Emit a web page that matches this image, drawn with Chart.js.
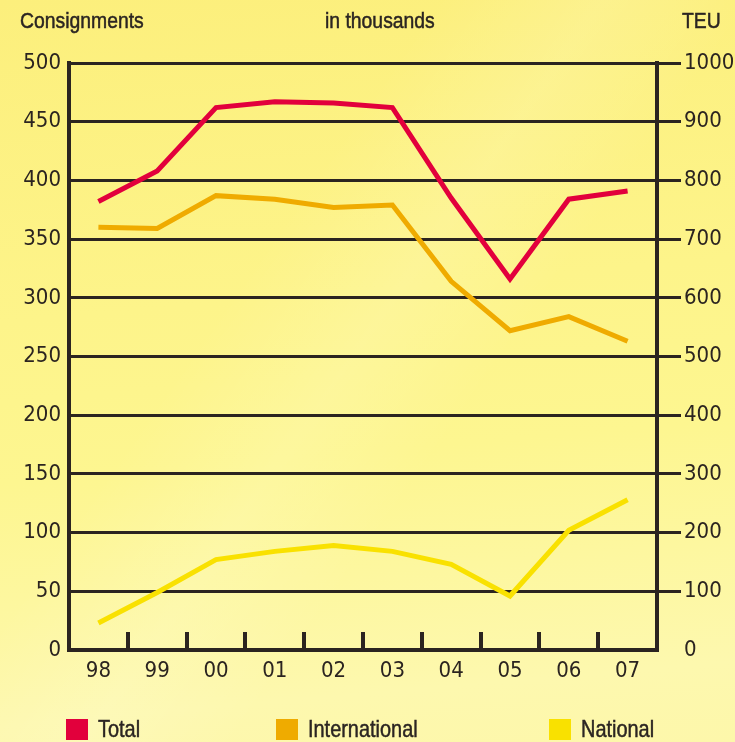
<!DOCTYPE html>
<html>
<head>
<meta charset="utf-8">
<script src="https://cdn.jsdelivr.net/npm/chart.js@4"></script>
<style>
  html, body { margin: 0; padding: 0; }
  body {
    width: 735px; height: 742px; overflow: hidden; position: relative;
    font-family: 'Liberation Sans', Arial, sans-serif;
    color: #2b2522;
    background:
      linear-gradient(125deg, rgba(255,255,255,0) 35%, rgba(255,255,255,0.12) 48%, rgba(255,255,255,0) 60%),
      linear-gradient(175deg, #fcef7c 0%, #fdf48a 40%, #fdf690 60%, #fdf8ae 90%, #fdf7aa 100%);
  }
  #chart { position: absolute; left: 0; top: 0; }
  .narrow {
    display: inline-block; transform-origin: left center; white-space: nowrap;
    -webkit-text-stroke: 0.5px #2b2522;
  }
  .title { position: absolute; top: 8px; font-size: 22px; }
  .title .narrow { transform: scaleX(0.88); }
  .item { position: absolute; top: 715px; display: flex; align-items: center; font-size: 24px; }
  .item .narrow { transform: scaleX(0.83); }
  .item:nth-child(1) { left: 66px; }
  .item:nth-child(2) { left: 276px; }
  .item:nth-child(3) { left: 549px; }
  .box { width: 22px; height: 21px; margin-right: 10px; }
</style>
</head>
<body>
<canvas id="chart" width="735" height="742"></canvas>
<div class="title" style="left:20px"><span class="narrow">Consignments</span></div>
<div class="title" style="left:325px"><span class="narrow">in thousands</span></div>
<div class="title" style="left:682px"><span class="narrow">TEU</span></div>
<div id="legend"></div>
<script>
const categories = ['98', '99', '00', '01', '02', '03', '04', '05', '06', '07'];
const totalValues = [382, 408, 462, 467, 466, 462, 385, 316, 384, 391];
const internationalValues = [360, 359, 387, 384, 377, 379, 314, 272, 284, 263];
const nationalValues = [23, 49, 77, 84, 89, 84, 73, 46, 102, 128];
const seriesNames = ['Total', 'International', 'National'];
const seriesColors = ['#e2003c', '#efab00', '#f9e100'];
const consignmentTicks = [0, 50, 100, 150, 200, 250, 300, 350, 400, 450, 500];
const teuTicks = [0, 100, 200, 300, 400, 500, 600, 700, 800, 900, 1000];

const ink = '#2b2420';
const tickFont = { family: "'DejaVu Sans Condensed', 'Liberation Sans', sans-serif", size: 22 };

// small upward tick marks between the years on the x axis
const categoryTicks = {
  id: 'categoryTicks',
  beforeDatasetsDraw(chart) {
    const { ctx, chartArea, scales: { x } } = chart;
    ctx.save();
    ctx.strokeStyle = ink;
    ctx.lineWidth = 4;
    for (let i = 1; i < categories.length; i++) {
      const px = Math.round((x.getPixelForValue(i - 1) + x.getPixelForValue(i)) / 2);
      ctx.beginPath();
      ctx.moveTo(px, chartArea.bottom);
      ctx.lineTo(px, chartArea.bottom - 18);
      ctx.stroke();
    }
    ctx.restore();
  }
};

const allValues = [totalValues, internationalValues, nationalValues];

new Chart(document.getElementById('chart').getContext('2d'), {
  type: 'line',
  data: {
    labels: categories,
    datasets: seriesNames.map((name, i) => ({
      label: name,
      data: allValues[i],
      borderColor: seriesColors[i],
      backgroundColor: seriesColors[i],
      borderWidth: 5,
      pointRadius: 0,
      tension: 0,
      yAxisID: 'y'
    }))
  },
  options: {
    responsive: false,
    animation: false,
    layout: { padding: { top: 63, left: 0, right: 0, bottom: 0 } },
    plugins: { legend: { display: false }, tooltip: { enabled: false } },
    scales: {
      x: {
        offset: true,
        grid: { display: false },
        border: { display: true, color: ink, width: 4 },
        ticks: { color: ink, font: tickFont, padding: 0, maxRotation: 0 },
        afterFit(scale) { scale.height = 92; }
      },
      y: {
        position: 'left',
        min: 0, max: 500,
        afterBuildTicks(scale) { scale.ticks = consignmentTicks.map(v => ({ value: v })); },
        grid: { color: ink, lineWidth: 3, drawTicks: false },
        border: { display: true, color: ink, width: 4 },
        ticks: { color: ink, font: tickFont, padding: 8, callback: v => String(v) },
        afterFit(scale) { scale.width = 69; }
      },
      y2: {
        position: 'right',
        min: 0, max: 1000,
        afterBuildTicks(scale) { scale.ticks = teuTicks.map(v => ({ value: v })); },
        grid: {
          drawOnChartArea: false, drawTicks: true, tickLength: 24, lineWidth: 3,
          color: ctx => ctx.tick && ctx.tick.value === 0 ? 'rgba(0,0,0,0)' : ink
        },
        border: { display: true, color: ink, width: 4 },
        ticks: { color: ink, font: tickFont, padding: 3, callback: v => String(v) },
        afterFit(scale) { scale.width = 78; }
      }
    }
  },
  plugins: [categoryTicks]
});

const legend = document.getElementById('legend');
seriesNames.forEach((name, i) => {
  const item = document.createElement('div');
  item.className = 'item';
  const box = document.createElement('span');
  box.className = 'box';
  box.style.background = seriesColors[i];
  const label = document.createElement('span');
  label.className = 'narrow';
  label.textContent = name;
  item.appendChild(box);
  item.appendChild(label);
  legend.appendChild(item);
});
</script>
</body>
</html>
